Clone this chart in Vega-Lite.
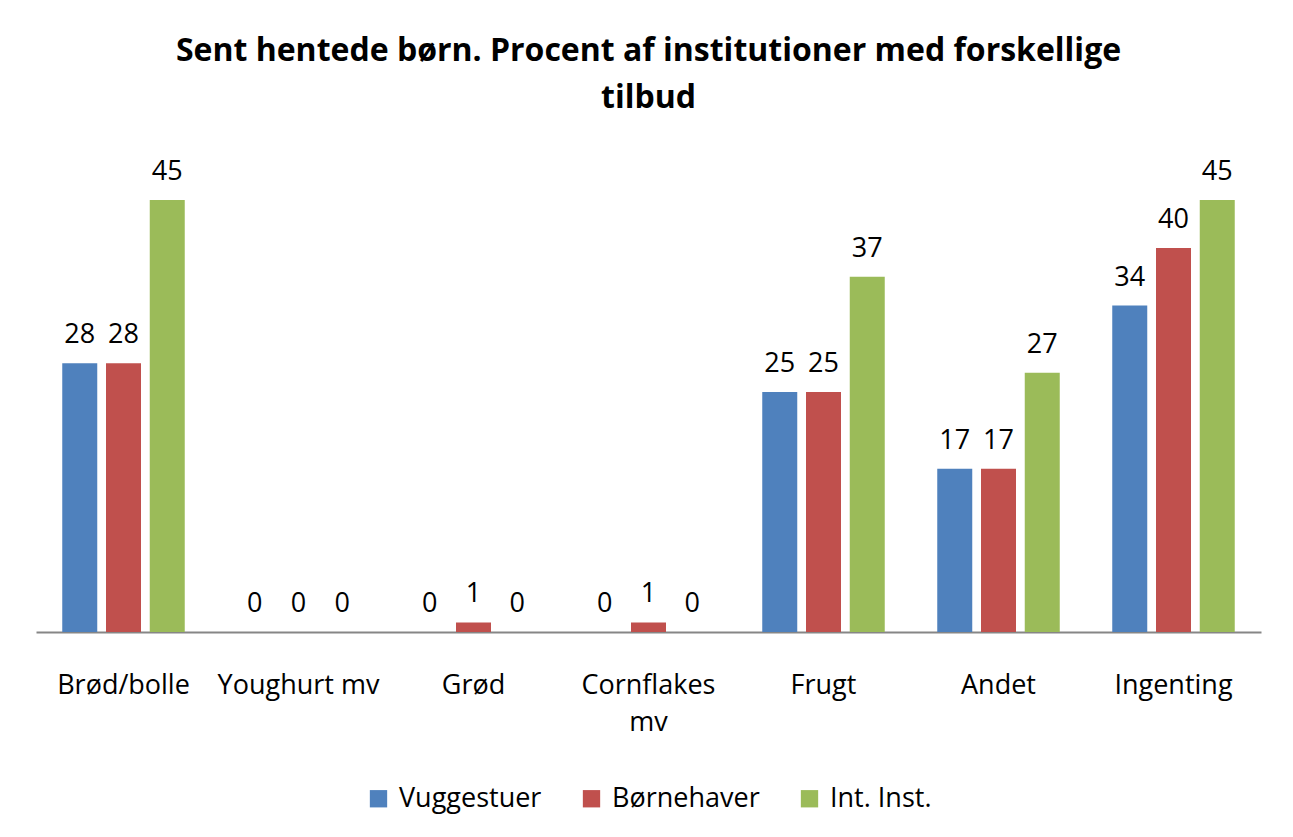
{
  "$schema": "https://vega.github.io/schema/vega-lite/v6.json",
  "width": 1225,
  "height": 480,
  "autosize": {"type": "none"},
  "padding": {"left": 36, "top": 152, "right": 32, "bottom": 205},
  "background": "white",
  "config": {
    "font": "Open Sans",
    "view": {"stroke": null},
    "legend": {"layout": {"bottom": {"anchor": "middle"}}}
  },
  "title": {
    "text": ["Sent hentede børn. Procent af institutioner med forskellige", "tilbud"],
    "font": "Open Sans",
    "fontSize": 32,
    "fontWeight": "bold",
    "color": "#000000",
    "lineHeight": 47,
    "anchor": "middle",
    "offset": 37
  },
  "data": {
    "values": [
      {"kategori": "Brød/bolle", "serie": "Vuggestuer", "procent": 28},
      {"kategori": "Brød/bolle", "serie": "Børnehaver", "procent": 28},
      {"kategori": "Brød/bolle", "serie": "Int. Inst.", "procent": 45},
      {"kategori": "Youghurt mv", "serie": "Vuggestuer", "procent": 0},
      {"kategori": "Youghurt mv", "serie": "Børnehaver", "procent": 0},
      {"kategori": "Youghurt mv", "serie": "Int. Inst.", "procent": 0},
      {"kategori": "Grød", "serie": "Vuggestuer", "procent": 0},
      {"kategori": "Grød", "serie": "Børnehaver", "procent": 1},
      {"kategori": "Grød", "serie": "Int. Inst.", "procent": 0},
      {"kategori": "Cornflakes mv", "serie": "Vuggestuer", "procent": 0},
      {"kategori": "Cornflakes mv", "serie": "Børnehaver", "procent": 1},
      {"kategori": "Cornflakes mv", "serie": "Int. Inst.", "procent": 0},
      {"kategori": "Frugt", "serie": "Vuggestuer", "procent": 25},
      {"kategori": "Frugt", "serie": "Børnehaver", "procent": 25},
      {"kategori": "Frugt", "serie": "Int. Inst.", "procent": 37},
      {"kategori": "Andet", "serie": "Vuggestuer", "procent": 17},
      {"kategori": "Andet", "serie": "Børnehaver", "procent": 17},
      {"kategori": "Andet", "serie": "Int. Inst.", "procent": 27},
      {"kategori": "Ingenting", "serie": "Vuggestuer", "procent": 34},
      {"kategori": "Ingenting", "serie": "Børnehaver", "procent": 40},
      {"kategori": "Ingenting", "serie": "Int. Inst.", "procent": 45}
    ]
  },
  "encoding": {
    "x": {
      "field": "kategori",
      "type": "nominal",
      "sort": ["Brød/bolle", "Youghurt mv", "Grød", "Cornflakes mv", "Frugt", "Andet", "Ingenting"],
      "scale": {"paddingInner": 0.3, "paddingOuter": 0.15},
      "axis": {
        "title": null,
        "labelAngle": 0,
        "ticks": false,
        "domainColor": "#868686",
        "domainWidth": 2,
        "labelFont": "Open Sans",
        "labelFontSize": 27,
        "labelColor": "#000000",
        "labelPadding": 40,
        "labelLineHeight": 37,
        "labelExpr": "datum.label == 'Cornflakes mv' ? ['Cornflakes', 'mv'] : datum.label"
      }
    },
    "xOffset": {
      "field": "serie",
      "type": "nominal",
      "sort": ["Vuggestuer", "Børnehaver", "Int. Inst."],
      "scale": {"paddingInner": 0.2, "paddingOuter": 0}
    },
    "y": {
      "field": "procent",
      "type": "quantitative",
      "scale": {"domain": [0, 50]},
      "axis": null
    }
  },
  "layer": [
    {
      "mark": {"type": "bar"},
      "encoding": {
        "color": {
          "field": "serie",
          "type": "nominal",
          "sort": ["Vuggestuer", "Børnehaver", "Int. Inst."],
          "scale": {"domain": ["Vuggestuer", "Børnehaver", "Int. Inst."], "range": ["#4F81BD", "#C0504D", "#9BBB59"]},
          "legend": {
            "orient": "bottom",
            "direction": "horizontal",
            "title": null,
            "symbolType": "square",
            "symbolSize": 300,
            "symbolStrokeWidth": 0,
            "labelFont": "Open Sans",
            "labelFontSize": 27,
            "labelColor": "#000000",
            "labelOffset": 7,
            "columnPadding": 36,
            "offset": 50
          }
        }
      }
    },
    {
      "mark": {"type": "text", "dy": -20, "baseline": "alphabetic", "font": "Open Sans", "fontSize": 27, "color": "#000000"},
      "encoding": {"text": {"field": "procent", "type": "quantitative"}}
    }
  ]
}
